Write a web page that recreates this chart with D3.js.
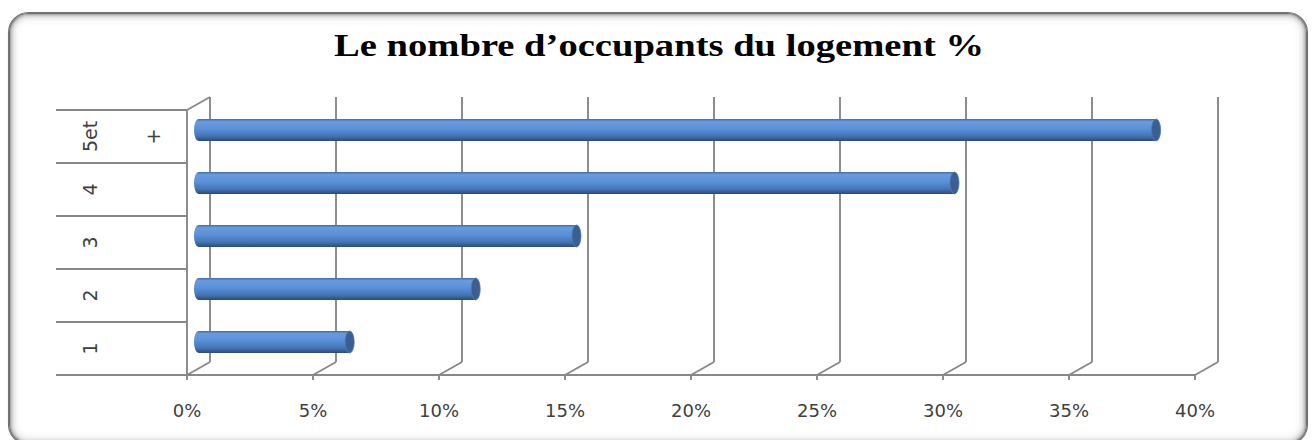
<!DOCTYPE html>
<html lang="fr">
  <head>
    <meta charset="UTF-8" />
    <title>Le nombre d’occupants du logement %</title>
    <script src="https://d3js.org/d3.v7.min.js"></script>
    <style>
      body {
        margin: 0;
        background-color: #fff;
        font-family: "DejaVu Sans", Verdana, sans-serif;
      }
      svg {
        display: block;
      }
      .title {
        font-family: "Liberation Serif", "DejaVu Serif", serif;
        font-weight: bold;
        font-size: 31px;
        fill: #000;
        text-anchor: middle;
      }
      .tick-label {
        font-size: 18px;
        fill: #404040;
        text-anchor: middle;
      }
      .cat-label {
        font-size: 19px;
        fill: #404040;
        text-anchor: middle;
        dominant-baseline: central;
      }
      .grid {
        stroke: #888;
        stroke-width: 1.9;
        fill: none;
      }
    </style>
  </head>
  <body>
    <svg id="chart" width="1316" height="440"></svg>

    <script>
      // données
      const categories = ["5et +", "4", "3", "2", "1"];
      const values = [38, 30, 15, 11, 6];
      const ticks = [0, 5, 10, 15, 20, 25, 30, 35, 40];
      const titre = "Le nombre d’occupants du logement %";

      const width = 1316,
        height = 440;

      const svg = d3.select("#chart");

      // cadre arrondi avec ombre intérieure
      const frame = svg.append("g");
      for (let i = 0; i < 14; i++) {
        frame
          .append("rect")
          .attr("x", 8.5 + i)
          .attr("y", 12.5 + i)
          .attr("width", 1299 - 2 * i)
          .attr("height", 432 - 2 * i)
          .attr("rx", Math.max(20 - i, 8))
          .attr("fill", "none")
          .attr("stroke", "#6a6a6a")
          .attr("stroke-opacity", i < 2 ? 0.95 : 0.8 * Math.pow(0.68, i - 1))
          .attr("stroke-width", 1.1);
      }

      // titre
      svg
        .append("text")
        .attr("class", "title")
        .attr("x", 659)
        .attr("y", 56)
        .attr("textLength", 650)
        .attr("lengthAdjust", "spacingAndGlyphs")
        .text(titre);

      // échelles (face avant)
      const x = d3.scaleLinear().domain([0, 40]).range([187, 1195]);
      const y = d3.scaleBand().domain(categories).range([110, 375]);
      const depthX = 23,
        depthY = -13;
      const left = 56;
      const floorY = y.range()[1];
      const topY = y.range()[0];

      const g = svg.append("g");

      // quadrillage du mur du fond
      ticks.forEach((t) => {
        g.append("line")
          .attr("class", "grid")
          .attr("x1", x(t) + depthX)
          .attr("x2", x(t) + depthX)
          .attr("y1", topY + depthY)
          .attr("y2", floorY + depthY);
        // diagonale du sol
        g.append("line")
          .attr("class", "grid")
          .attr("x1", x(t))
          .attr("y1", floorY)
          .attr("x2", x(t) + depthX)
          .attr("y2", floorY + depthY);
        // petite graduation
        g.append("line")
          .attr("class", "grid")
          .attr("x1", x(t))
          .attr("x2", x(t))
          .attr("y1", floorY)
          .attr("y2", floorY + 5);
      });

      // mur de gauche
      g.append("line")
        .attr("class", "grid")
        .attr("x1", x(0))
        .attr("x2", x(0))
        .attr("y1", topY)
        .attr("y2", floorY);
      g.append("line")
        .attr("class", "grid")
        .attr("x1", x(0))
        .attr("y1", topY)
        .attr("x2", x(0) + depthX)
        .attr("y2", topY + depthY);

      // ligne du sol
      g.append("line")
        .attr("class", "grid")
        .attr("x1", left)
        .attr("x2", x(40))
        .attr("y1", floorY)
        .attr("y2", floorY);

      // séparateurs des catégories
      categories.forEach((c) => {
        g.append("line")
          .attr("class", "grid")
          .attr("x1", left)
          .attr("x2", x(0))
          .attr("y1", y(c))
          .attr("y2", y(c));
      });

      // étiquettes de l'axe x
      g.selectAll(".tick-label")
        .data(ticks)
        .enter()
        .append("text")
        .attr("class", "tick-label")
        .attr("x", (d) => x(d))
        .attr("y", 417)
        .text((d) => d + "%");

      // étiquettes des catégories (verticales)
      categories.forEach((c) => {
        const words = c.split(" ");
        words.forEach((w, i) => {
          const cx = 90 + i * 63;
          const cy = y(c) + y.bandwidth() / 2;
          g.append("text")
            .attr("class", "cat-label")
            .attr("transform", `translate(${cx},${cy}) rotate(-90)`)
            .text(w);
        });
      });

      // dégradé des cylindres
      const defs = svg.append("defs");
      const grad = defs
        .append("linearGradient")
        .attr("id", "cyl")
        .attr("x1", 0)
        .attr("y1", 0)
        .attr("x2", 0)
        .attr("y2", 1);
      [
        [0, "#3f6ca8"],
        [0.12, "#6a9be0"],
        [0.45, "#5990d8"],
        [0.78, "#4474b5"],
        [1, "#2b4a75"],
      ].forEach(([o, c]) =>
        grad.append("stop").attr("offset", o).attr("stop-color", c)
      );

      // cylindres
      const barH = 22,
        rx = 4.5;
      const bars = g
        .selectAll(".bar")
        .data(categories.map((c, i) => ({ cat: c, value: values[i] })))
        .enter()
        .append("g")
        .attr("class", "bar");

      const cy = (d) => y(d.cat) + y.bandwidth() / 2 + depthY / 2;
      const bx = (v) => x(v) + depthX / 2;

      bars
        .append("ellipse")
        .attr("cx", bx(0))
        .attr("cy", cy)
        .attr("rx", rx)
        .attr("ry", barH / 2)
        .attr("fill", "url(#cyl)");
      bars
        .append("rect")
        .attr("x", bx(0))
        .attr("y", (d) => cy(d) - barH / 2)
        .attr("width", (d) => bx(d.value) - bx(0))
        .attr("height", barH)
        .attr("fill", "url(#cyl)");
      bars
        .append("ellipse")
        .attr("cx", (d) => bx(d.value))
        .attr("cy", cy)
        .attr("rx", rx)
        .attr("ry", barH / 2)
        .attr("fill", "#3a5f90")
        .attr("stroke", "#4d78b0")
        .attr("stroke-width", 0.8);
    </script>
  </body>
</html>
